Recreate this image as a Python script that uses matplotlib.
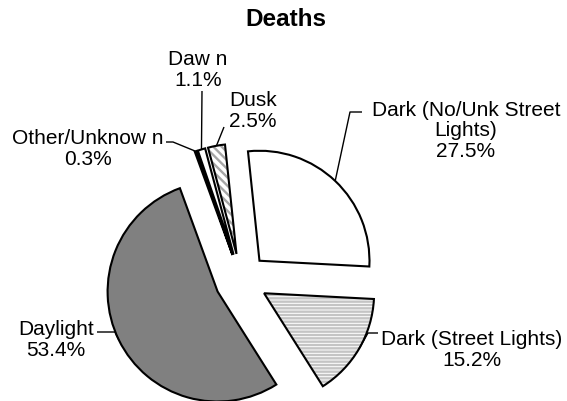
import numpy as np
import matplotlib
matplotlib.use("Agg")
import matplotlib.pyplot as plt

# data
categories = ["Dark (No/Unk Street\nLights)", "Dark (Street Lights)", "Daylight",
              "Other/Unknow n", "Daw n", "Dusk"]
shares = [27.5, 15.2, 53.4, 0.3, 1.1, 2.5]

# styles
fills = ["white", "white", "#808080", "black", "white", "white"]
hatches = [None, "-----", None, None, None, "\\\\\\\\"]
hatch_colors = [None, "#c4c4c4", None, None, None, "#a6a6a6"]

W, H = 567, 402
CX, CY, R = 241.3, 280.9, 110.0   # pie centre / radius in pixels

# label block centres and leader knees, in pixels
label_pos = [(466, 131), (472, 350), (56, 340), (88, 149), (198, 70), (253, 111)]
leader_knees = [
    [(350, 113), (362, 113)],
    [(368, 334), (378, 334)],
    [(115, 333), (97, 333)],
    [(173, 143), (166, 143)],
    [(202, 92)],
    [(224, 128)],
]

plt.rcParams["font.family"] = ["Liberation Sans", "DejaVu Sans"]
plt.rcParams["hatch.linewidth"] = 1.7


def px(x, y):
    return (x - CX) / R, (CY - y) / R


fig = plt.figure(figsize=(W / 100, H / 100), dpi=100)
ax = fig.add_axes([0, 0, 1, 1])

explode = [0.24] * len(shares)

# fills + hatches (hatch colour comes from edgecolor, so outline separately)
wedges, _ = ax.pie(shares, explode=explode, startangle=96, counterclock=False,
                   colors=fills, radius=1.0,
                   wedgeprops=dict(linewidth=0))
for w, h, hc in zip(wedges, hatches, hatch_colors):
    if h:
        w.set_hatch(h)
        w.set_edgecolor(hc)

outl, _ = ax.pie(shares, explode=explode, startangle=96, counterclock=False,
                 radius=1.0,
                 wedgeprops=dict(facecolor="none", edgecolor="black", linewidth=1.5))

ax.set_xlim(-CX / R, (W - CX) / R)
ax.set_ylim(-(H - CY) / R, CY / R)
ax.set_aspect("auto")
ax.axis("off")

for w, name, v, pos, knees in zip(outl, categories, shares, label_pos, leader_knees):
    mid = np.deg2rad((w.theta1 + w.theta2) / 2)
    ax0 = w.center[0] + w.r * np.cos(mid)
    ay0 = w.center[1] + w.r * np.sin(mid)
    pts = [(ax0, ay0)] + [px(*k) for k in knees]
    xs, ys = zip(*pts)
    ax.plot(xs, ys, color="black", linewidth=1.0, solid_capstyle="butt")
    tx, ty = px(*pos)
    ax.text(tx, ty, f"{name}\n{v:.1f}%", ha="center", va="center",
            fontsize=15, color="black", linespacing=1.1)

fig.text(286 / W, 1 - 20 / H, "Deaths", ha="center", va="center",
         fontsize=17.5, fontweight="bold")

fig.savefig("out.png", dpi=100, facecolor="white")
